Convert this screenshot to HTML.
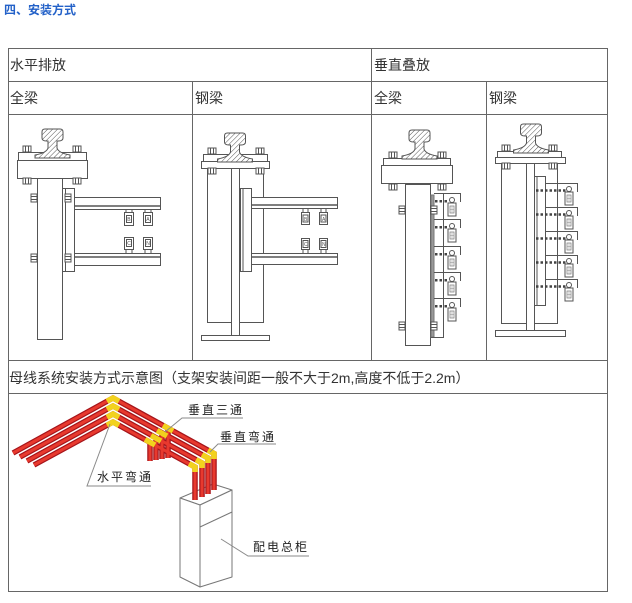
<!DOCTYPE html>
<html><head><meta charset="utf-8"><style>
html,body{margin:0;padding:0;background:#fff;}
svg{display:block;}
.t{font-family:"Liberation Sans","Noto Sans CJK SC",sans-serif;fill:#333;font-size:14px;}
.lb{font-family:"Liberation Sans","Noto Sans CJK SC",sans-serif;fill:#222;font-size:12px;letter-spacing:2px;}
.sm{font-family:"Liberation Sans",sans-serif;font-size:5px;fill:#555;stroke:none;}
</style></head><body>
<svg width="632" height="603" viewBox="0 0 632 603" xmlns="http://www.w3.org/2000/svg">
<defs>
<pattern id="h" width="3.5" height="3.5" patternUnits="userSpaceOnUse" patternTransform="rotate(45)">
<rect width="3.5" height="3.5" fill="#fff"/><line x1="0" y1="0" x2="0" y2="3.5" stroke="#555" stroke-width="1"/></pattern>
<symbol id="bv" overflow="visible"><rect x="-4" y="-3" width="8" height="6" fill="#fff" stroke="#555"/><line x1="-1.5" y1="-3" x2="-1.5" y2="3" stroke="#555"/><line x1="1.5" y1="-3" x2="1.5" y2="3" stroke="#555"/></symbol>
<symbol id="bh" overflow="visible"><rect x="-3" y="-4" width="6" height="8" fill="#fff" stroke="#555"/><line x1="-3" y1="-1.5" x2="3" y2="-1.5" stroke="#555"/><line x1="-3" y1="1.5" x2="3" y2="1.5" stroke="#555"/></symbol>
<symbol id="rail" overflow="visible"><path d="M-10.5,3 Q-10.5,0 -7.5,0 L7.5,0 Q10.5,0 10.5,3 L10.5,9 Q10.5,12 6,12 L4.5,12 L4.5,19 Q6,24 17.5,26 L17.5,29 L-17.5,29 L-17.5,26 Q-6,24 -4.5,19 L-4.5,12 L-6,12 Q-10.5,12 -10.5,9 Z" fill="url(#h)" stroke="#555"/></symbol>
<symbol id="ins" overflow="visible"><circle cx="4" cy="-3" r="2.5" fill="#fff" stroke="#555"/><rect x="0" y="0" width="8" height="13" fill="#fff" stroke="#555"/><rect x="2" y="3" width="4" height="7" fill="#fff" stroke="#777" stroke-width=".7"/><line x1="4" y1="3" x2="4" y2="10" stroke="#999" stroke-width=".6"/><line x1="2" y1="6.5" x2="6" y2="6.5" stroke="#999" stroke-width=".6"/></symbol>
</defs>

<!-- title -->
<text x="4" y="14" font-family="Liberation Sans,Noto Sans CJK SC,sans-serif" font-size="12" font-weight="bold" fill="#2361c8">四、安装方式</text>

<!-- table lines -->
<g stroke="#666" stroke-width="1" fill="none">
<rect x="8.5" y="48.5" width="599" height="543"/>
<line x1="8" y1="81.5" x2="608" y2="81.5"/>
<line x1="8" y1="114.5" x2="608" y2="114.5"/>
<line x1="8" y1="360.5" x2="608" y2="360.5"/>
<line x1="8" y1="393.5" x2="608" y2="393.5"/>
<line x1="371.5" y1="48" x2="371.5" y2="360"/>
<line x1="192.5" y1="81" x2="192.5" y2="360"/>
<line x1="486.5" y1="81" x2="486.5" y2="360"/>
</g>

<text class="t" x="10" y="70">水平排放</text>
<text class="t" x="374" y="70">垂直叠放</text>
<text class="t" x="10" y="103">全梁</text>
<text class="t" x="195" y="103">钢梁</text>
<text class="t" x="374" y="103">全梁</text>
<text class="t" x="489" y="103">钢梁</text>
<text class="t" x="9" y="383">母线系统安装方式示意图（支架安装间距一般不大于2m,高度不低于2.2m）</text>

<!-- CELL 1 -->
<g stroke="#555" stroke-width="1" fill="#fff">
<rect x="37.5" y="178.5" width="25" height="161"/>
<rect x="62.5" y="188.5" width="12" height="83"/>
<line x1="65.5" y1="188.5" x2="65.5" y2="271.5"/>
<rect x="74.5" y="197.5" width="86" height="12"/>
<line x1="74.5" y1="206" x2="160.5" y2="206" stroke-width="1.5"/>
<rect x="74.5" y="253.5" width="86" height="12"/>
<line x1="74.5" y1="257" x2="160.5" y2="257" stroke-width="1.5"/>
<rect x="17.5" y="160.5" width="70" height="18"/>
<rect x="18.5" y="152.5" width="68" height="8"/>
</g>
<use href="#rail" x="52.5" y="129"/>
<use href="#bv" x="27" y="149"/><use href="#bv" x="77" y="149"/>
<use href="#bv" x="27" y="181"/><use href="#bv" x="77" y="181"/>
<use href="#bh" x="34" y="198"/><use href="#bh" x="68" y="198"/>
<use href="#bh" x="34" y="258"/><use href="#bh" x="68" y="258"/>
<g stroke="#555" fill="#fff">
<rect x="124.5" y="212.5" width="9" height="13"/><rect x="126.5" y="215.5" width="5" height="7"/>
<rect x="143.5" y="212.5" width="9" height="13"/><rect x="145.5" y="215.5" width="5" height="7"/>
<rect x="126" y="209.5" width="6" height="3"/><rect x="145" y="209.5" width="6" height="3"/>
<rect x="124.5" y="237.5" width="9" height="12"/><rect x="126.5" y="239.5" width="5" height="7"/>
<rect x="143.5" y="237.5" width="9" height="12"/><rect x="145.5" y="239.5" width="5" height="7"/>
<rect x="126" y="249.5" width="6" height="4"/><rect x="145" y="249.5" width="6" height="4"/>
</g>
<text class="sm" x="127.3" y="221">B</text><text class="sm" x="146.3" y="221">A</text>
<text class="sm" x="127.3" y="245">C</text><text class="sm" x="146.3" y="245">N</text>

<!-- CELL 2 -->
<g stroke="#555" stroke-width="1" fill="#fff">
<rect x="207.5" y="168.5" width="56" height="154"/>
<rect x="231.5" y="168.5" width="8" height="167"/>
<rect x="201.5" y="335.5" width="68" height="5"/>
<rect x="240.5" y="188.5" width="11" height="83"/>
<line x1="243" y1="188.5" x2="243" y2="271.5"/>
<rect x="251.5" y="197.5" width="86" height="11"/>
<line x1="251.5" y1="205" x2="337.5" y2="205" stroke-width="1.5"/>
<rect x="251.5" y="253.5" width="86" height="11"/>
<line x1="251.5" y1="257" x2="337.5" y2="257" stroke-width="1.5"/>
<rect x="203.5" y="154.5" width="64" height="7"/>
<rect x="201.5" y="161.5" width="68" height="7"/>
</g>
<use href="#rail" x="235" y="133"/>
<use href="#bv" x="212" y="151"/><use href="#bv" x="260" y="151"/>
<use href="#bv" x="212" y="171"/><use href="#bv" x="260" y="171"/>
<g stroke="#555" fill="#fff">
<rect x="301.5" y="212.5" width="8" height="12"/><rect x="303" y="215" width="5" height="7"/>
<rect x="319.5" y="212.5" width="8" height="12"/><rect x="321" y="215" width="5" height="7"/>
<rect x="303" y="208.5" width="5" height="4"/><rect x="321" y="208.5" width="5" height="4"/>
<rect x="301.5" y="238.5" width="8" height="11"/><rect x="303" y="240.5" width="5" height="7"/>
<rect x="319.5" y="238.5" width="8" height="11"/><rect x="321" y="240.5" width="5" height="7"/>
<rect x="303" y="249.5" width="5" height="4"/><rect x="321" y="249.5" width="5" height="4"/>
</g>
<text class="sm" x="304" y="221">B</text><text class="sm" x="322" y="221">A</text>
<text class="sm" x="304" y="246">C</text><text class="sm" x="322" y="246">N</text>

<!-- CELL 3 -->
<g stroke="#555" stroke-width="1" fill="#fff">
<rect x="405.5" y="184.5" width="25" height="161"/>
<rect x="431" y="195" width="3" height="142" fill="#999" stroke="#777"/>
<polyline points="443.5,193 443.5,337.5 431,337.5" fill="none"/>
<rect x="381.5" y="165.5" width="71" height="18"/>
<rect x="383.5" y="158.5" width="67" height="7"/>
</g>
<use href="#rail" x="419.5" y="130"/>
<use href="#bv" x="393" y="155"/><use href="#bv" x="442" y="155"/>
<use href="#bv" x="393" y="187"/><use href="#bv" x="442" y="187"/>
<use href="#bh" x="402" y="210"/><use href="#bh" x="434" y="210"/>
<use href="#bh" x="402" y="326"/><use href="#bh" x="434" y="326"/>
<g stroke="#555" fill="none">
<polyline points="434,193.5 460.5,193.5 460.5,202"/>
<polyline points="434,219.5 460.5,219.5 460.5,228"/>
<polyline points="434,246.5 460.5,246.5 460.5,255"/>
<polyline points="434,272.5 460.5,272.5 460.5,281"/>
<polyline points="434,298.5 460.5,298.5 460.5,307"/>
</g>
<g fill="#444">
<rect x="435" y="200" width="2.5" height="2.5"/><rect x="439.5" y="200" width="2.5" height="2.5"/><rect x="444.5" y="200" width="2.5" height="2.5"/>
<rect x="435" y="226" width="2.5" height="2.5"/><rect x="439.5" y="226" width="2.5" height="2.5"/><rect x="444.5" y="226" width="2.5" height="2.5"/>
<rect x="435" y="253" width="2.5" height="2.5"/><rect x="439.5" y="253" width="2.5" height="2.5"/><rect x="444.5" y="253" width="2.5" height="2.5"/>
<rect x="435" y="279" width="2.5" height="2.5"/><rect x="439.5" y="279" width="2.5" height="2.5"/><rect x="444.5" y="279" width="2.5" height="2.5"/>
<rect x="435" y="305" width="2.5" height="2.5"/><rect x="439.5" y="305" width="2.5" height="2.5"/><rect x="444.5" y="305" width="2.5" height="2.5"/>
</g>
<use href="#ins" x="448" y="203"/><use href="#ins" x="448" y="229"/><use href="#ins" x="448" y="256"/>
<use href="#ins" x="448" y="282"/><use href="#ins" x="448" y="308"/>

<!-- CELL 4 -->
<g stroke="#555" stroke-width="1" fill="#fff">
<rect x="501.5" y="163.5" width="56" height="160"/>
<rect x="526.5" y="163.5" width="8" height="167"/>
<rect x="495.5" y="330.5" width="70" height="6"/>
<rect x="534.5" y="176.5" width="11" height="129"/>
<line x1="537" y1="176.5" x2="537" y2="305.5"/>
<rect x="497.5" y="151.5" width="64" height="6"/>
<rect x="495.5" y="157.5" width="70" height="6"/>
</g>
<use href="#rail" x="531" y="124"/>
<use href="#bv" x="506" y="148"/><use href="#bv" x="553" y="148"/>
<use href="#bv" x="506" y="166"/><use href="#bv" x="553" y="166"/>
<g stroke="#555" fill="none">
<polyline points="546,183.5 577.5,183.5 577.5,192"/>
<polyline points="546,207.5 577.5,207.5 577.5,216"/>
<polyline points="546,231.5 577.5,231.5 577.5,240"/>
<polyline points="546,255.5 577.5,255.5 577.5,264"/>
<polyline points="546,279.5 577.5,279.5 577.5,288"/>
</g>
<g stroke="#444" stroke-width="2.5" stroke-dasharray="2.5 2" fill="none">
<line x1="536" y1="190.5" x2="566" y2="190.5"/>
<line x1="536" y1="214.5" x2="566" y2="214.5"/>
<line x1="536" y1="238.5" x2="566" y2="238.5"/>
<line x1="536" y1="262.5" x2="566" y2="262.5"/>
<line x1="536" y1="286.5" x2="566" y2="286.5"/>
</g>
<use href="#ins" x="565" y="192"/><use href="#ins" x="565" y="216"/><use href="#ins" x="565" y="240"/>
<use href="#ins" x="565" y="264"/><use href="#ins" x="565" y="288"/>

<!-- BOTTOM DIAGRAM -->
<!-- cabinet -->
<g stroke="#777" stroke-width="1" fill="#fff" stroke-linejoin="round">
<polygon points="180,498 213,484 232,490 200,505"/>
<polygon points="180,498 200,505 200,587 180,577"/>
<polygon points="200,505 232,490 232,577 200,587"/>
<line x1="200" y1="527" x2="232" y2="512"/>
</g>
<!-- bars -->
<g fill="none" stroke-linejoin="miter" stroke-linecap="butt">
<g stroke="#a5141a" stroke-width="5.5">
<polyline points="13,453 113,398 214,453.5 214,490"/>
<polyline points="20,457 113,406 208,458 208,494"/>
<polyline points="27,461 113,414 202,463 202,497"/>
<polyline points="34,465 113,422 195,467 195,500"/>
<line x1="168" y1="430" x2="168" y2="458"/>
<line x1="162" y1="435" x2="162" y2="459"/>
<line x1="156" y1="440" x2="156" y2="460"/>
<line x1="150" y1="444" x2="150" y2="461"/>
</g>
<g stroke="#e8392e" stroke-width="3">
<polyline points="13,453 113,398 214,453.5 214,490"/>
<polyline points="20,457 113,406 208,458 208,494"/>
<polyline points="27,461 113,414 202,463 202,497"/>
<polyline points="34,465 113,422 195,467 195,500"/>
<line x1="168" y1="431" x2="168" y2="458"/>
<line x1="162" y1="436" x2="162" y2="459"/>
<line x1="156" y1="441" x2="156" y2="460"/>
<line x1="150" y1="445" x2="150" y2="461"/>
</g>
<!-- yellow joints -->
<g stroke="#f2d21e" stroke-width="5.5">
<polyline points="107,401.3 113,398 119,401.3"/>
<polyline points="107,409.3 113,406 119,409.3"/>
<polyline points="107,417.3 113,414 119,417.3"/>
<polyline points="107,425.3 113,422 119,425.3"/>
<polyline points="208,450.2 214,453.5 214,459"/>
<polyline points="202,454.7 208,458 208,463"/>
<polyline points="196,459.7 202,463 202,468"/>
<polyline points="189,463.7 195,467 195,472"/>
<line x1="163" y1="425.5" x2="173" y2="431"/>
<line x1="157" y1="430.5" x2="167" y2="436"/>
<line x1="151" y1="435.5" x2="161" y2="441"/>
<line x1="145" y1="439.5" x2="155" y2="445"/>
</g>
</g>
<!-- leaders -->
<g stroke="#8a8a8a" stroke-width="1" fill="none">
<polyline points="243,418 182,418 165,432"/>
<polyline points="276,444 218,444 210,452"/>
<polyline points="151,486 87,486 110,424"/>
<polyline points="309,556 248,556 221,539"/>
</g>
<text class="lb" x="188" y="414">垂直三通</text>
<text class="lb" x="220" y="441">垂直弯通</text>
<text class="lb" x="97" y="481">水平弯通</text>
<text class="lb" x="253" y="551">配电总柜</text>
</svg>
</body></html>
